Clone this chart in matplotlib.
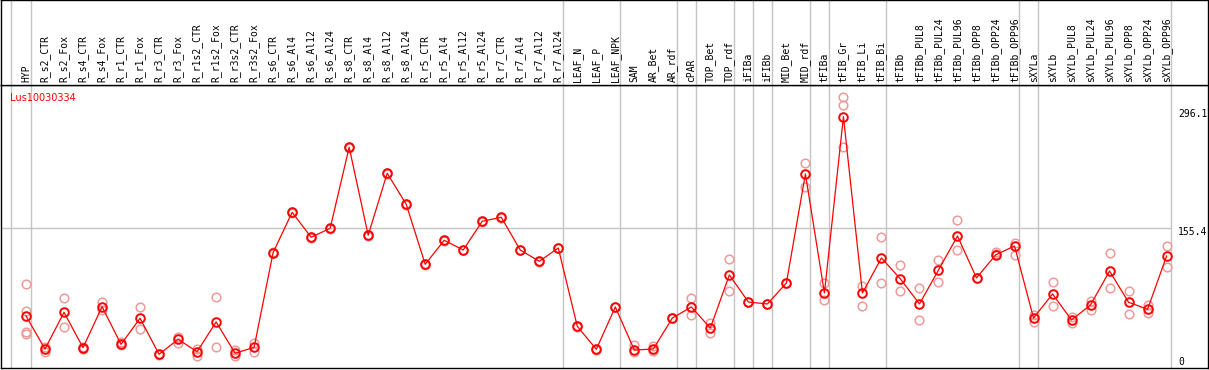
import matplotlib
matplotlib.use("Agg")
import matplotlib.pyplot as plt
import matplotlib.transforms as mtransforms

gene = "Lus10030334"

samples = ["HYP", "R_s2_CTR", "R_s2_Fox", "R_s4_CTR", "R_s4_Fox", "R_r1_CTR", "R_r1_Fox",
           "R_r3_CTR", "R_r3_Fox", "R_r1s2_CTR", "R_r1s2_Fox", "R_r3s2_CTR", "R_r3s2_Fox",
           "R_s6_CTR", "R_s6_Al4", "R_s6_Al12", "R_s6_Al24", "R_s8_CTR", "R_s8_Al4",
           "R_s8_Al12", "R_s8_Al24", "R_r5_CTR", "R_r5_Al4", "R_r5_Al12", "R_r5_Al24",
           "R_r7_CTR", "R_r7_Al4", "R_r7_Al12", "R_r7_Al24", "LEAF_N", "LEAF_P", "LEAF_NPK",
           "SAM", "AR_Bet", "AR_rdf", "cPAR", "TOP_Bet", "TOP_rdf", "iFIBa", "iFIBb",
           "MID_Bet", "MID_rdf", "tFIBa", "tFIB_Gr", "tFIB_Li", "tFIB_Bi", "tFIBb",
           "tFIBb_PUL8", "tFIBb_PUL24", "tFIBb_PUL96", "tFIBb_OPP8", "tFIBb_OPP24",
           "tFIBb_OPP96", "sXYLa", "sXYLb", "sXYLb_PUL8", "sXYLb_PUL24", "sXYLb_PUL96",
           "sXYLb_OPP8", "sXYLb_OPP24", "sXYLb_OPP96"]

groups = (["HYP"] + ["R"] * 28 + ["LEAF"] * 3 + ["SAM_AR"] * 3 + ["cPAR"] + ["TOP"] * 2
          + ["iFIBa"] + ["iFIBb"] + ["MID"] * 2 + ["tFIBa"] + ["tFIB"] * 3 + ["tFIBb"] * 7
          + ["sXYLa"] + ["sXYLb"] * 7)

means = [50.7, 11.3, 55.1, 12.9, 61.8, 16.9, 48.0, 5.0, 22.9, 8.1, 43.6, 6.2, 13.4,
         126.5, 174.5, 144.7, 155.4, 252.1, 147.1, 221.1, 184.1, 112.4, 141.1, 129.5, 163.8,
         168.5, 129.5, 116.0, 131.9, 38.4, 11.0, 61.5, 10.1, 11.3, 48.3, 61.5, 36.4, 99.7,
         67.4, 65.1, 90.1, 220.2, 78.2, 288.6, 78.2, 120.0, 94.9, 65.1, 105.6, 146.2, 96.1,
         123.5, 134.3, 48.3, 77.0, 46.0, 63.9, 104.4, 67.1, 58.7, 122.3]

replicates = [
    [88.9, 56.7, 31.6, 29.2], [13.7, 7.8], [71.9, 38.0], [13.7, 11.3], [67.8, 57.9],
    [20.1, 16.1], [61.1, 34.9], [4.2, 5.5], [26.0, 18.9], [11.0, 3.0], [73.8, 13.4],
    [10.1, 3.0], [18.9, 8.1], [127.0, 126.0], [175.0, 174.0], [145.0, 144.4],
    [155.8, 155.0], [252.5, 251.7], [147.5, 146.7], [221.5, 220.7], [184.5, 183.7],
    [112.8, 112.0], [141.5, 140.7], [129.9, 129.1], [164.2, 163.4], [168.9, 168.1],
    [129.9, 129.1], [116.4, 115.6], [132.3, 131.5], [38.8, 38.0], [11.4, 10.6],
    [61.9, 61.1], [16.1, 7.8], [14.9, 9.0], [48.7, 47.9], [72.2, 51.9], [42.4, 30.4],
    [118.8, 80.6], [67.8, 67.0], [65.5, 64.7], [90.5, 89.7], [233.3, 205.1],
    [90.1, 69.8], [311.8, 302.6, 252.8], [86.5, 63.0], [145.0, 90.1], [111.6, 80.6],
    [84.1, 46.0], [117.6, 91.3], [165.3, 129.5], [96.5, 95.7], [127.1, 124.7],
    [137.9, 123.5], [51.9, 43.6], [91.3, 62.7], [49.5, 42.4], [68.6, 57.9],
    [125.9, 83.8], [80.6, 52.8], [63.9, 54.0], [134.3, 108.9],
]

ytick_values = [0, 155.4, 296.1]
ytick_labels = ["0", "155.4", "296.1"]
grid_value = 155.4

# ---------------- layout ----------------
W, H = 1209, 370
fig = plt.figure(figsize=(W / 100, H / 100), dpi=100)


def px_rect(x0, y0, x1, y1):
    return [x0 / W, (H - y1) / H, (x1 - x0) / W, (y1 - y0) / H]


ax = fig.add_axes(px_rect(1, 85, 1208, 368))
axh = fig.add_axes(px_rect(1, 0, 1208, 85))

step, first = 19.01, 26.0
xlim = ((1 - first) / step, (1208 - first) / step)
for a in (ax, axh):
    a.set_xlim(*xlim)
    a.set_xticks([])
    a.set_yticks([])
    for s in a.spines.values():
        s.set_color("black")
        s.set_linewidth(1.0)
ax.set_ylim(-11.34, 326.4)
axh.set_ylim(0, 85)

grey = "#c4c4c4"
n = len(samples)
bounds = [-1] + [i for i in range(n) if i == n - 1 or groups[i] != groups[i + 1]]
offset = 4.5 / step
for b in bounds:
    for a in (ax, axh):
        a.axvline(b + offset, color=grey, lw=1.0, zorder=0)

ax.hlines(grid_value, xlim[0], bounds[-1] + offset, color=grey, lw=1.0, zorder=0)

# replicates
for i, reps in enumerate(replicates):
    ax.plot([i] * len(reps), reps, linestyle="none", marker="o", ms=6.2,
            mfc="none", mec="#ef9a9a", mew=1.1, zorder=2)

# means
ax.plot(range(n), means, color="red", lw=0.9, zorder=3)
ax.plot(range(n), means, linestyle="none", marker="o", ms=6.2, mfc="none",
        mec="red", mew=1.4, zorder=4)

# header labels
for i, s in enumerate(samples):
    axh.text(i, 3, s, rotation=90, ha="center", va="bottom",
             fontfamily="DejaVu Sans Mono", fontsize=7, color="black")

# gene name
ax.text((10 - 1) / 1207, 1 - 12.5 / 283, gene, transform=ax.transAxes, color="red",
        fontsize=7, fontfamily="DejaVu Sans", ha="left", va="center")

# y labels
trans = mtransforms.blended_transform_factory(ax.transAxes, ax.transData)
for v, lab in zip(ytick_values, ytick_labels):
    ax.annotate(lab, xy=((1178 - 1) / 1207, v), xycoords=trans, xytext=(0, -2.7),
                textcoords="offset points", ha="left", va="center",
                fontfamily="DejaVu Sans Mono", fontsize=7, color="black")

fig.savefig("out.png", dpi=100)
